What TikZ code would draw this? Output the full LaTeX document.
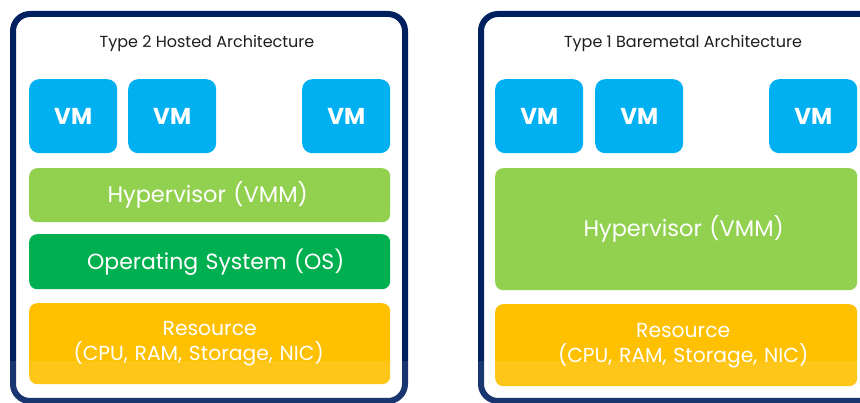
\documentclass[tikz,border=0pt]{standalone}
\usepackage{fontspec}
\setmainfont{Poppins}
\definecolor{navy}{HTML}{002060}
\definecolor{vmblue}{HTML}{00B0F0}
\definecolor{hvgreen}{HTML}{92D050}
\definecolor{osgreen}{HTML}{00B050}
\definecolor{resgold}{HTML}{FFC000}
\definecolor{titlegray}{HTML}{1E1E1E}
\tikzset{
  frame/.style={draw=navy, line width=6pt, rounded corners=17pt},
  layer/.style={anchor=north west, inner sep=0pt, rounded corners=8pt, text=white, align=center},
  vmbox/.style={layer, fill=vmblue, rounded corners=10pt, minimum width=88pt, minimum height=74pt, font=\bfseries\fontsize{23}{26}\selectfont},
  hvbox/.style={layer, fill=hvgreen, font=\fontsize{22.5}{26}\selectfont},
  osbox/.style={layer, fill=osgreen, font=\fontsize{22}{26}\selectfont},
  resbox/.style={layer, fill=resgold, font=\fontsize{20.3}{25}\selectfont},
  title/.style={text=titlegray, font=\fontsize{16}{19}\selectfont}
}
\begin{document}
\begin{tikzpicture}[x=1pt, y=-1pt]
  \useasboundingbox (0,0) rectangle (860,403);
  \clip (0,0) rectangle (860,403);
  \fill[white] (0,0) rectangle (860,403);

  % Type 2: hosted stack
  \draw[frame] (13,14) rectangle (405,401);
  \node[title] (t2) at (207,43) {Type 2 Hosted Architecture};
  \node[vmbox] (vma1) at (29,79) {VM};
  \node[vmbox] (vma2) at (128,79) {VM};
  \node[vmbox] (vma3) at (302,79) {VM};
  \node[hvbox, minimum width=361pt, minimum height=54pt, text width=361pt] (hva) at (29,168) {Hypervisor (VMM)\hspace*{4pt}};
  \node[osbox, minimum width=361pt, minimum height=55pt, text width=361pt] (osa) at (29,234) {\hspace*{12pt}Operating System (OS)};
  \node[resbox, minimum width=361pt, minimum height=81pt, text width=361pt] (resa) at (29,303) {Resource\hspace*{22pt}\\(CPU, RAM, Storage, NIC)\hspace*{22pt}};

  % Type 1: bare-metal stack
  \draw[frame] (481,14) rectangle (900,401);
  \node[title] (t1) at (683,43) {Type 1 Baremetal Architecture};
  \node[vmbox] (vmb1) at (495,79) {VM};
  \node[vmbox] (vmb2) at (595,79) {VM};
  \node[vmbox] (vmb3) at (769,79) {VM};
  \node[hvbox, minimum width=362pt, minimum height=122pt, text width=362pt] (hvb) at (495,168) {\hspace*{15pt}Hypervisor (VMM)};
  \node[resbox, minimum width=362pt, minimum height=82pt, text width=362pt] (resb) at (495,304) {\hspace*{14pt}Resource\\\hspace*{14pt}(CPU, RAM, Storage, NIC)};

  % light haze along the lower edge
  \fill[white, opacity=0.1] (0,361) rectangle (860,403);
\end{tikzpicture}
\end{document}
